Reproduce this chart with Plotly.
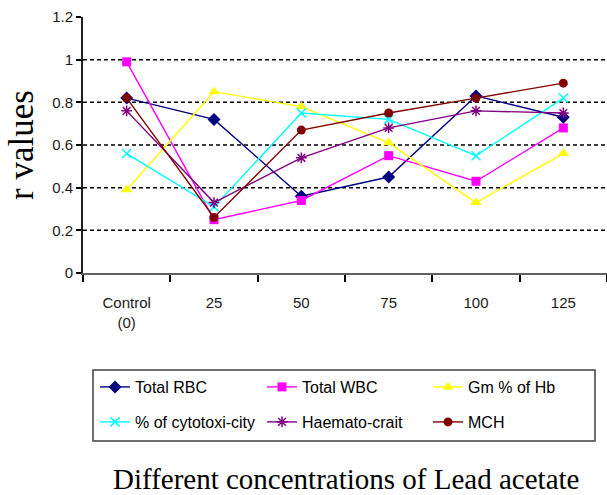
import plotly.graph_objects as go

categories = ["Control<br>(0)", "25", "50", "75", "100", "125"]
total_rbc = [0.82, 0.72, 0.36, 0.45, 0.83, 0.73]
total_wbc = [0.99, 0.25, 0.34, 0.55, 0.43, 0.68]
gm_hb = [0.39, 0.85, 0.78, 0.61, 0.33, 0.56]
cytotox = [0.56, 0.31, 0.75, 0.72, 0.55, 0.82]
haemato = [0.76, 0.33, 0.54, 0.68, 0.76, 0.75]
mch = [0.82, 0.26, 0.67, 0.75, 0.82, 0.89]

y_ticks = [0, 0.2, 0.4, 0.6, 0.8, 1.0, 1.2]
y_ticktext = ["0", "0.2", "0.4", "0.6", "0.8", "1", "1.2"]
grid_vals = [0.2, 0.4, 0.6, 0.8, 1.0]

series = [
    ("Total RBC", total_rbc, "#000080", "diamond", 10),
    ("Total WBC", total_wbc, "#FF00FF", "square", 9),
    ("Gm % of Hb", gm_hb, "#FFFF00", "triangle-up", 10),
    ("% of cytotoxi-city", cytotox, "#00FFFF", "x-thin", 9),
    ("Haemato-crait", haemato, "#800080", "asterisk", 9),
    ("MCH", mch, "#800000", "circle", 9),
]

L, T, W, H = 83, 17, 524, 256
def px_x(p):
    return (p - L) / W
def px_y(p):
    return -(p - (T + H)) / H

# legend slot positions (pixel) : column left edges and row centres
leg_cols = [95, 262, 428]
leg_rows = [387, 422]

fig = go.Figure()
legend_font = dict(family="Liberation Sans, Arial", size=16, color="black")
layout_legends = {}
for i, (name, vals, color, sym, size) in enumerate(series):
    open_sym = sym in ("x-thin", "asterisk")
    lg = "legend" if i == 0 else f"legend{i + 1}"
    fig.add_trace(go.Scatter(
        x=categories, y=vals, name=name, mode="lines+markers",
        line=dict(color=color, width=1.4),
        marker=dict(symbol=sym, size=size, color=color,
                    line=dict(color=color, width=1.5 if open_sym else 0)),
        legend=lg,
    ))
    layout_legends[lg] = dict(
        x=px_x(leg_cols[i % 3]), y=px_y(leg_rows[i // 3]),
        xanchor="left", yanchor="middle", orientation="h",
        bgcolor="rgba(0,0,0,0)", borderwidth=0, font=legend_font, itemwidth=30,
    )

for g in grid_vals:
    fig.add_shape(type="line", xref="paper", yref="y", x0=0, x1=1, y0=g, y1=g,
                  line=dict(color="black", width=1.5, dash="4px,3px"), layer="below")

# legend border
fig.add_shape(type="rect", xref="paper", yref="paper",
              x0=px_x(93), x1=px_x(595), y0=px_y(441), y1=px_y(370),
              line=dict(color="#404040", width=1.5), fillcolor="rgba(0,0,0,0)")

tick_font = dict(family="Liberation Sans, Arial", size=15, color="#1a1a1a")

fig.update_layout(
    width=607, height=495,
    margin=dict(l=L, r=607 - L - W, t=T, b=495 - T - H),
    plot_bgcolor="white", paper_bgcolor="white",
    showlegend=True,
    xaxis=dict(
        type="category", range=[-0.5, 5.5],
        showline=True, linecolor="#606060", linewidth=2,
        ticks="outside", tickson="boundaries", ticklen=7, tickcolor="black", tickwidth=1.5,
        tickfont=tick_font, ticklabelstandoff=15,
        showgrid=False, zeroline=False,
    ),
    yaxis=dict(
        range=[0, 1.2], tickvals=y_ticks, ticktext=y_ticktext,
        showline=True, linecolor="#202020", linewidth=2,
        ticks="outside", ticklen=5, tickcolor="black", tickwidth=1.5,
        tickfont=tick_font,
        showgrid=False, zeroline=False,
        title=dict(text="r values", font=dict(family="Liberation Serif, Times New Roman", size=35, color="black"),
                   standoff=8),
    ),
    **layout_legends,
)

fig.add_annotation(text="Different concentrations of Lead acetate", xref="paper", yref="paper",
                   x=px_x(346), y=px_y(479), xanchor="center", yanchor="middle",
                   showarrow=False, font=dict(family="Liberation Serif, Times New Roman", size=29, color="black"))

fig.write_html("out.html")
